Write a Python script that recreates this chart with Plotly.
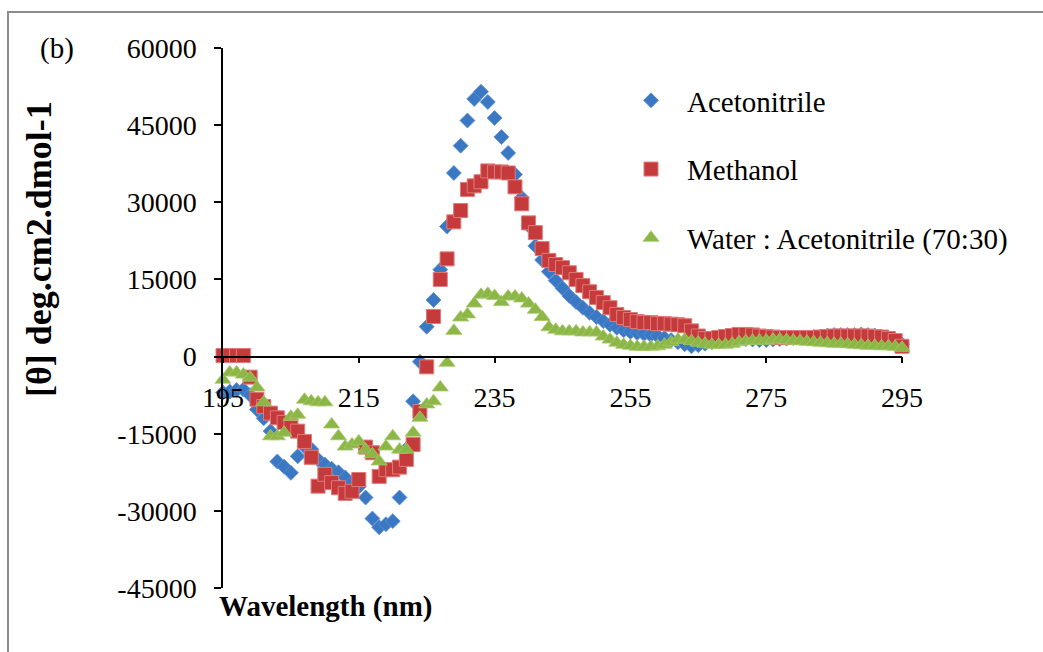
import plotly.graph_objects as go

wavelength = list(range(195, 296))

acetonitrile = [
    -7000, -6800, -6500, -6400, -7500, -10300, -12000, -14500, -20400, -21400,
    -22600, -19400, -17500, -18000, -20000, -21000, -21800, -22500, -23500, -24500,
    -25300, -27400, -31500, -33200, -32600, -32000, -27400, -18000, -8700, -1000,
    5800, 11000, 16900, 25300, 35700, 41000, 45900, 50100, 51500, 49500,
    46400, 42700, 39600, 35400, 30900, 25500, 21500, 18800, 16500, 14800,
    13300, 11800, 10600, 9500, 8500, 7700, 6900, 6200, 5600, 5100,
    4800, 4600, 4400, 4200, 4000, 3600, 3200, 2800, 2400, 2000,
    2200, 2500, 2800, 3000, 3200, 3300, 3400, 3400, 3300, 3200,
    3200, 3300, 3400, 3500, 3600, 3700, 3700, 3800, 3900, 4100,
    4200, 4200, 4200, 4200, 4300, 4200, 4100, 3700, 3300, 2900,
    2400,
]

methanol = [
    200, 200, 200, 200, -4000, -8300, -9700, -11000, -11900, -12800,
    -13800, -14500, -16500, -19600, -25200, -22900, -24500, -25500, -26600, -26200,
    -23900, -17600, -18700, -23300, -22000, -22000, -21500, -20000, -17100, -10700,
    -2000, 7800, 15000, 19000, 26200, 28400, 32500, 33200, 34000, 36100,
    35900, 35900, 35700, 33000, 29700, 26000, 24100, 21000, 18700, 17900,
    17300, 16300, 15000, 13800, 12600, 11500, 10500, 9500, 8200, 7600,
    7200, 6800, 6600, 6600, 6400, 6400, 6300, 6200, 6000, 5000,
    4000, 3500, 3500, 3700, 3900, 4100, 4300, 4300, 4200, 4000,
    3900, 3800, 3700, 3700, 3700, 3700, 3700, 3700, 3800, 3900,
    4000, 4000, 4000, 4000, 4000, 4000, 3900, 3800, 3500, 3100,
    2000,
]

water_acn = [
    -4500, -3100, -3100, -3500, -4100, -6000, -8900, -15500, -15500, -14800,
    -11700, -11300, -8400, -8700, -8900, -8900, -13200, -15500, -17500, -17100,
    -16500, -18100, -19000, -20400, -17500, -15500, -18100, -18100, -14800, -11900,
    -9300, -8700, -6000, -1200, 5000, 7600, 8200, 10300, 12000, 12200,
    11800, 10600, 11700, 11700, 11300, 10300, 9100, 7700, 5700, 5200,
    4900, 4900, 4900, 4700, 4700, 4700, 3900, 3300, 2700, 2300,
    2100, 1900, 1900, 1900, 2000, 2300, 2800, 3300, 3300, 3000,
    2700, 2500, 2300, 2300, 2300, 2500, 2800, 3000, 3100, 3100,
    3100, 3300, 3300, 3200, 3100, 3000, 2900, 2800, 2700, 2600,
    2500, 2500, 2400, 2300, 2200, 2100, 2100, 2000, 2000, 1900,
    1700,
]

series_names = ["Acetonitrile", "Methanol", "Water : Acetonitrile (70:30)"]

x_ticks = [195, 215, 235, 255, 275, 295]
x_tick_labels = ["195", "215", "235", "255", "275", "295"]
y_ticks = [-45000, -30000, -15000, 0, 15000, 30000, 45000, 60000]
y_tick_labels = ["-45000", "-30000", "-15000", "0", "15000", "30000", "45000", "60000"]

FONT = "Liberation Serif, Times New Roman, serif"

styles = [
    dict(symbol="diamond", size=11.5, color="#3b78c4", line=dict(color="#5a8fd0", width=0.8)),
    dict(symbol="square", size=14, color="#c53a3a", line=dict(color="#e07a7a", width=1)),
    dict(symbol="triangle-up", size=14, color="#8cb646", line=dict(color="#a5c96a", width=0.8)),
]

fig = go.Figure()
for name, vals, st in zip(series_names, [acetonitrile, methanol, water_acn], styles):
    fig.add_trace(go.Scatter(
        x=wavelength, y=vals, mode="markers", name=name, legendgroup=name,
        marker=st, cliponaxis=False,
    ))

L, R, T, B = 223, 141, 48, 64
W, H = 1043, 652
pw, ph = W - L - R, H - T - B

def px(xp):
    return (xp - L) / pw

def py(yp):
    return (H - B - yp) / ph

fig.update_layout(
    width=W, height=H,
    margin=dict(l=L, r=R, t=T, b=B, pad=0),
    paper_bgcolor="white", plot_bgcolor="white",
    font=dict(family=FONT, color="black", size=28),
    showlegend=True,
    legend=dict(
        x=px(615), y=py(75), xanchor="left", yanchor="top",
        font=dict(family=FONT, size=29, color="black"),
        itemwidth=62, traceorder="grouped", tracegroupgap=28,
        bgcolor="rgba(0,0,0,0)",
    ),
    xaxis=dict(
        range=[195, 295], tickmode="array", tickvals=x_ticks, ticktext=x_tick_labels,
        ticks="outside", ticklen=6, tickwidth=1.5, tickcolor="black",
        showline=True, linecolor="black", linewidth=1.5,
        showgrid=False, zeroline=False,
        anchor="free", position=45000 / 105000,
        tickfont=dict(family=FONT, size=28, color="black"),
        ticklabelstandoff=10,
    ),
    yaxis=dict(
        range=[-45000, 60000], tickmode="array", tickvals=y_ticks, ticktext=y_tick_labels,
        ticks="outside", ticklen=7, tickwidth=1.5, tickcolor="black",
        showline=True, linecolor="black", linewidth=1.5,
        showgrid=False, zeroline=False,
        tickfont=dict(family=FONT, size=28, color="black"),
        ticklabelstandoff=12,
    ),
    annotations=[
        dict(text="(b)", xref="paper", yref="paper", x=px(38), y=py(48),
             xanchor="left", yanchor="middle", showarrow=False,
             font=dict(family=FONT, size=29, color="black")),
        dict(text="<b>Wavelength (nm)</b>", xref="paper", yref="paper", x=px(217), y=py(606),
             xanchor="left", yanchor="middle", showarrow=False,
             font=dict(family=FONT, size=29, color="black")),
        dict(text="<b>[θ] deg.cm2.dmol-1</b>", xref="paper", yref="paper", x=px(39), y=py(249),
             xanchor="center", yanchor="middle", showarrow=False, textangle=-90,
             font=dict(family=FONT, size=36, color="black")),
    ],
    shapes=[
        dict(type="rect", xref="paper", yref="paper",
             x0=px(8), x1=px(1060), y0=py(700), y1=py(12),
             line=dict(color="#8c8c8c", width=2), fillcolor="rgba(0,0,0,0)", layer="below"),
    ],
)

fig.write_html("out.html")
